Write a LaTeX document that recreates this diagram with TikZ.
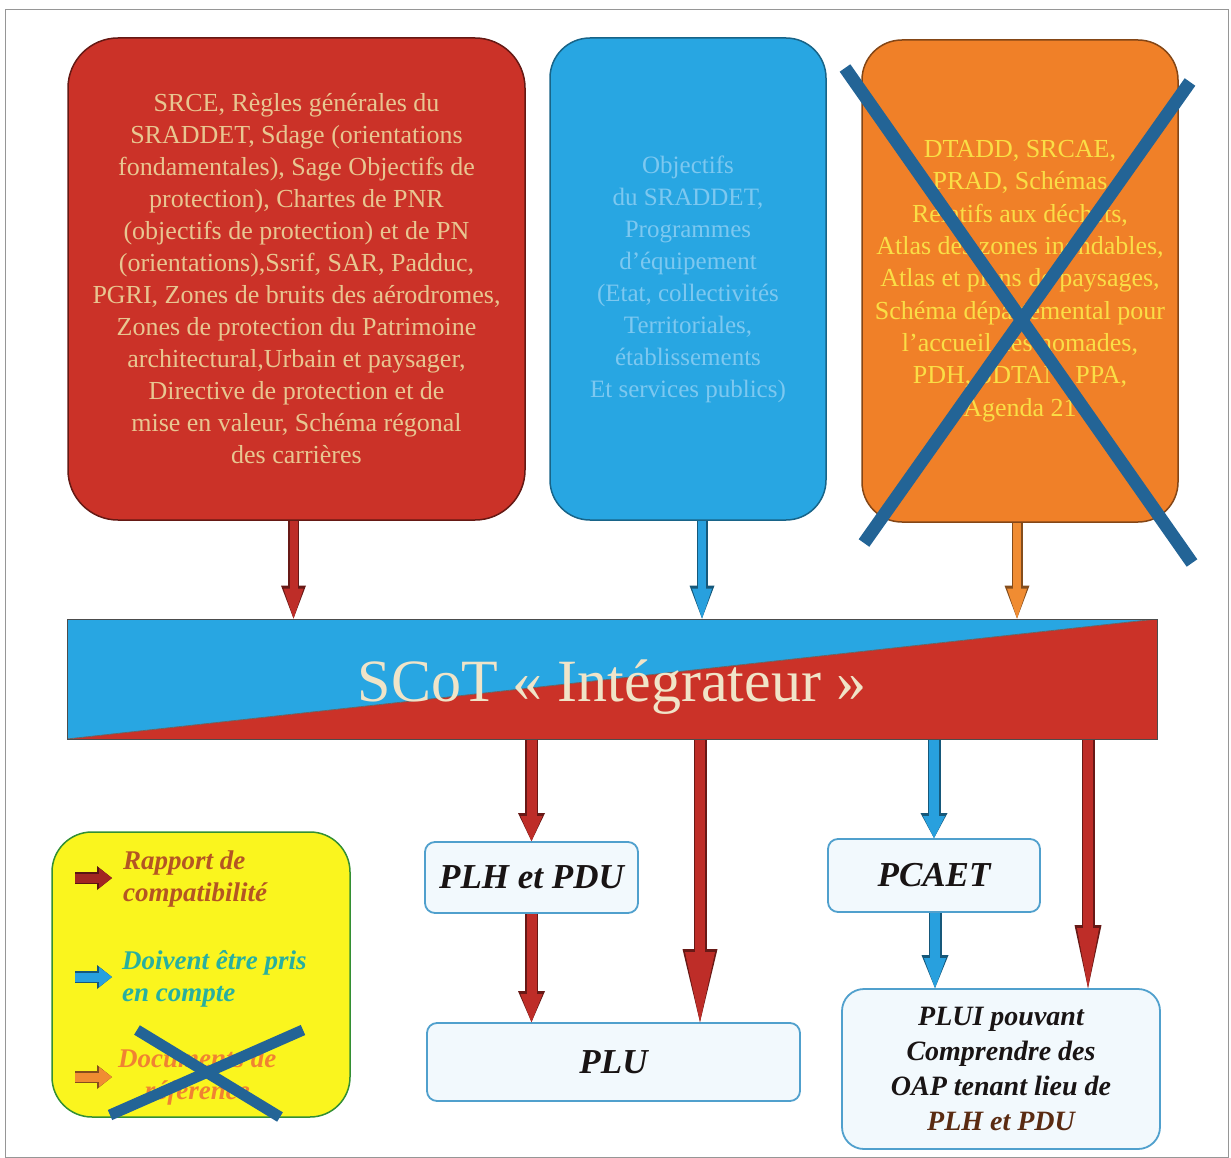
\documentclass[tikz,border=0pt]{standalone}
\usepackage{fontspec}
\setmainfont{Liberation Serif}
\usetikzlibrary{arrows.meta}
\definecolor{boxred}{RGB}{203,50,40}
\definecolor{boxblue}{RGB}{40,166,226}
\definecolor{boxorange}{RGB}{240,128,40}
\definecolor{redtext}{RGB}{232,198,145}
\definecolor{bluetext}{RGB}{125,200,240}
\definecolor{orangetext}{RGB}{250,222,70}
\definecolor{crossblue}{RGB}{35,100,150}
\definecolor{legyellow}{RGB}{250,245,30}
\definecolor{arrred}{RGB}{190,45,40}
\definecolor{arrblue}{RGB}{40,160,222}
\definecolor{arrorange}{RGB}{240,140,50}
\definecolor{lightfill}{RGB}{242,249,253}
\definecolor{lightborder}{RGB}{80,160,205}
\definecolor{legbrown}{RGB}{180,85,35}
\definecolor{legteal}{RGB}{40,175,160}
\definecolor{legorange}{RGB}{240,130,50}
\definecolor{scottext}{RGB}{240,228,200}
\definecolor{darktext}{RGB}{25,20,20}
\definecolor{framegray}{RGB}{150,150,150}
\begin{document}
\begin{tikzpicture}[x=1pt,y=-1pt,
  topbox/.style={rounded corners=#1, line width=1.5pt, inner sep=0pt, align=center},
  lightbox/.style={rounded corners=#1, draw=lightborder, fill=lightfill, line width=1.8pt, inner sep=0pt, align=center, text=darktext, font=\bfseries\itshape},
  cross/.style={draw=crossblue, line width=13pt},
  barr/.style n args={7}{draw=#1, line width=#2,
     -{Triangle[width=#4,length=#5,line width=0pt]},
     preaction={draw=#1!55!black, line width=#3, -{Triangle[width=#6,length=#7,line width=0pt]}}},
  legtext/.style={anchor=west, align=left, inner sep=0pt, font=\fontsize{27}{32}\selectfont\bfseries\itshape}
]
\useasboundingbox (0,0) rectangle (1231,1158);
\draw[framegray, line width=1pt] (5,10) rectangle (1228,1157);

% top boxes
\node[topbox=50pt, fill=boxred, draw=boxred!50!black, minimum width=457pt, minimum height=482pt,
      text=redtext, font=\fontsize{26}{32}\selectfont] (srce) at (296.5,279)
  {SRCE, Règles générales du\\SRADDET, Sdage (orientations\\fondamentales), Sage Objectifs de\\protection), Chartes de PNR\\(objectifs de protection) et de PN\\(orientations),Ssrif, SAR, Padduc,\\PGRI, Zones de bruits des aérodromes,\\Zones de protection du Patrimoine\\architectural,Urbain et paysager,\\Directive de protection et de\\mise en valeur, Schéma régonal\\des carrières};

\node[topbox=40pt, fill=boxblue, draw=boxblue!60!black, minimum width=276pt, minimum height=482pt,
      text=bluetext, font=\fontsize{25}{32}\selectfont] (obj) at (688,279)
  {Objectifs\\du SRADDET,\\Programmes\\d’équipement\\(Etat, collectivités\\Territoriales,\\établissements\\Et services publics)};

\node[topbox=40pt, fill=boxorange, draw=boxorange!55!black, minimum width=316pt, minimum height=482pt,
      text=orangetext, font=\fontsize{26}{32.3}\selectfont] (dtadd) at (1020,281)
  {DTADD, SRCAE,\\PRAD, Schémas\\Relatifs aux déchets,\\Atlas des zones inondables,\\Atlas et plans de paysages,\\Schéma départemental pour\\l’accueil des nomades,\\PDH, SDTAN, PPA,\\Agenda 21};
\draw[cross] (845,68) -- (1192,563);
\draw[cross] (1190,82) -- (864,543);

% SCoT bar
\node[draw=black!70, line width=1pt, minimum width=1090pt, minimum height=120pt, inner sep=0pt,
      path picture={
        \fill[boxblue] (path picture bounding box.north west) -- (path picture bounding box.north east) -- (path picture bounding box.south west) -- cycle;
        \fill[boxred] (path picture bounding box.north east) -- (path picture bounding box.south east) -- (path picture bounding box.south west) -- cycle;
        \draw[black!60, line width=0.8pt] (path picture bounding box.south west) -- (path picture bounding box.north east);
        \node[text=scottext, font=\fontsize{60}{60}\selectfont, inner sep=0pt] at ([yshift=-8pt]path picture bounding box.center) {SCoT «~Intégrateur~»};
      }] (scot) at (612,679) {};

% top arrows
\draw[barr={arrred}{8pt}{11pt}{20pt}{30pt}{25pt}{33pt}] ([xshift=-3pt]srce.south) -- ([xshift=-3pt]srce.south |- scot.north);
\draw[barr={arrblue}{8pt}{11pt}{20pt}{30pt}{25pt}{33pt}] ([xshift=14pt]obj.south) -- ([xshift=14pt]obj.south |- scot.north);
\draw[barr={arrorange}{8pt}{11pt}{20pt}{30pt}{25pt}{33pt}] ([xshift=-3pt]dtadd.south) -- ([xshift=-3pt]dtadd.south |- scot.north);

% lower boxes
\node[lightbox=10pt, minimum width=213pt, minimum height=71pt, font=\fontsize{35}{35}\selectfont\bfseries\itshape] (plh) at (531.5,877.5) {PLH et PDU};
\node[lightbox=10pt, minimum width=373pt, minimum height=78pt, font=\fontsize{35}{35}\selectfont\bfseries\itshape] (plu) at (613.5,1062) {PLU};
\node[lightbox=10pt, minimum width=212pt, minimum height=73pt, font=\fontsize{35}{35}\selectfont\bfseries\itshape] (pcaet) at (934,875.5) {PCAET};
\node[lightbox=22pt, minimum width=318pt, minimum height=160pt, font=\fontsize{28}{35}\selectfont\bfseries\itshape] (plui) at (1001,1069) {PLUI pouvant\\Comprendre des\\OAP tenant lieu de\\\textcolor{legbrown!50!black}{PLH et PDU}};

% lower arrows
\draw[barr={arrred}{10pt}{13pt}{22pt}{25pt}{27pt}{28pt}] (plh.north |- scot.south) -- (plh.north);
\draw[barr={arrred}{10pt}{13pt}{22pt}{28pt}{27pt}{31pt}] (plh.south) -- (plh.south |- plu.north);
\draw[barr={arrred}{10pt}{13pt}{30pt}{70pt}{35pt}{73pt}] ([xshift=86.5pt]plu.north |- scot.south) -- ([xshift=86.5pt]plu.north);
\draw[barr={arrblue}{10pt}{13pt}{22pt}{22pt}{27pt}{25pt}] (pcaet.north |- scot.south) -- (pcaet.north);
\draw[barr={arrblue}{10pt}{13pt}{22pt}{30pt}{27pt}{33pt}] ([xshift=1pt]pcaet.south) -- ([xshift=1pt]pcaet.south |- plui.north);
\draw[barr={arrred}{10pt}{13pt}{22pt}{60pt}{27pt}{63pt}] ([xshift=87pt]plui.north |- scot.south) -- ([xshift=87pt]plui.north);

% legend
\node[rounded corners=40pt, fill=legyellow, draw=black!40!green!60!gray, line width=1.5pt, minimum width=298pt, minimum height=285pt] (leg) at (201,974.5) {};
\coordinate (l1s) at (75,878);  \coordinate (l1e) at (112,878);
\coordinate (l2s) at (75,977);  \coordinate (l2e) at (112,977);
\coordinate (l3s) at (75,1077); \coordinate (l3e) at (112,1077);
\draw[barr={arrred!85!black}{9pt}{12pt}{20pt}{13pt}{24pt}{15pt}] (l1s) -- (l1e);
\draw[barr={arrblue}{9pt}{12pt}{20pt}{13pt}{24pt}{15pt}] (l2s) -- (l2e);
\draw[barr={arrorange}{9pt}{12pt}{20pt}{13pt}{24pt}{15pt}] (l3s) -- (l3e);
\node[legtext, text=legbrown] (lt1) at (123,879) {Rapport de\\compatibilité};
\node[legtext, text=legteal] (lt2) at (122,979) {Doivent être pris\\en compte};
\node[legtext, text=legorange, align=center] (lt3) at (118,1077) {Documents de\\référence};
\draw[cross, line width=11pt] (137,1030) -- (280,1117);
\draw[cross, line width=11pt] (303,1030) -- (110,1115);
\end{tikzpicture}
\end{document}
